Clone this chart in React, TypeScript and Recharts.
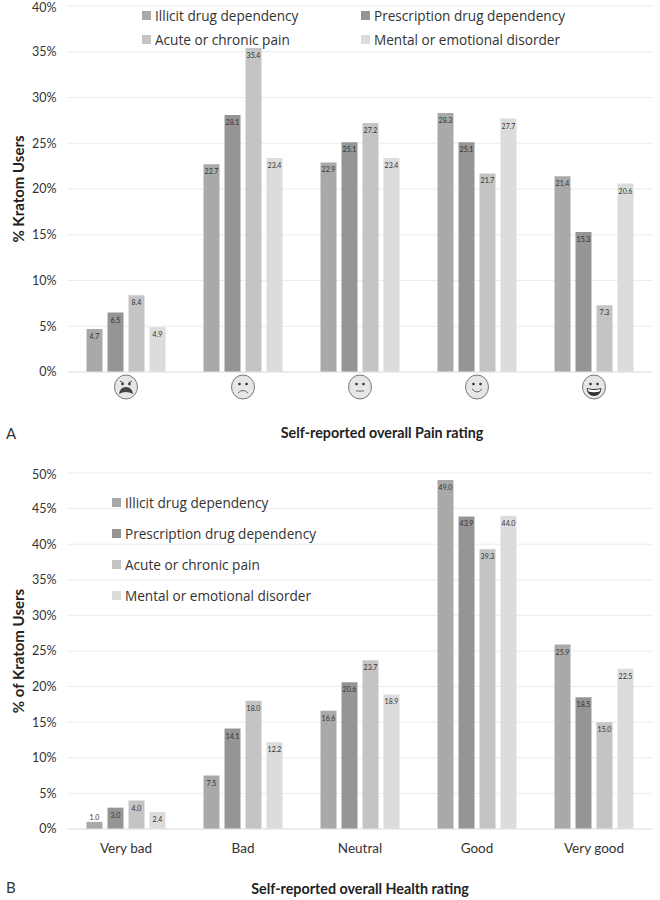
import React from 'react';
import { BarChart, Bar, XAxis, YAxis, CartesianGrid, Legend, LabelList } from 'recharts';

const ratings = ['Very bad', 'Bad', 'Neutral', 'Good', 'Very good'];

const illicitPain = [4.7, 22.7, 22.9, 28.3, 21.4];
const prescriptionPain = [6.5, 28.1, 25.1, 25.1, 15.3];
const acutePain = [8.4, 35.4, 27.2, 21.7, 7.3];
const mentalPain = [4.9, 23.4, 23.4, 27.7, 20.6];

const illicitHealth = [1.0, 7.5, 16.6, 49.0, 25.9];
const prescriptionHealth = [3.0, 14.1, 20.6, 43.9, 18.5];
const acuteHealth = [4.0, 18.0, 23.7, 39.3, 15.0];
const mentalHealth = [2.4, 12.2, 18.9, 44.0, 22.5];

const painTicks = [0, 5, 10, 15, 20, 25, 30, 35, 40];
const healthTicks = [0, 5, 10, 15, 20, 25, 30, 35, 40, 45, 50];

const series = [
  { key: 'illicit', name: 'Illicit drug dependency', color: '#a9a9a9' },
  { key: 'prescription', name: 'Prescription drug dependency', color: '#959595' },
  { key: 'acute', name: 'Acute or chronic pain', color: '#c4c4c4' },
  { key: 'mental', name: 'Mental or emotional disorder', color: '#dcdcdc' },
];

const buildRows = (a: number[], b: number[], c: number[], d: number[]) =>
  ratings.map((rating, i) => ({ rating, illicit: a[i], prescription: b[i], acute: c[i], mental: d[i] }));

const painData = buildRows(illicitPain, prescriptionPain, acutePain, mentalPain);
const healthData = buildRows(illicitHealth, prescriptionHealth, acuteHealth, mentalHealth);

const tickFont = 'Lato, "Open Sans", sans-serif';
const legendFont = '"Open Sans", sans-serif';

const BarValue = (props: any) => {
  const { x, y, width, height, value } = props;
  const above = height < 10;
  return (
    <text
      x={x + width / 2}
      y={above ? y - 2 : y + 10}
      textAnchor="middle"
      fontSize={7}
      fontFamily={tickFont}
      fill="#333"
    >
      {value.toFixed(1)}
    </text>
  );
};

const FaceTick = (props: any) => {
  const { x, y, payload } = props;
  const i = payload.index;
  const mouths = [
    <g key="m">
      <path d="M-6 -6 L-2.5 -4 M6 -6 L2.5 -4" stroke="#444" strokeWidth={1} />
      <path d="M-7 7 Q-6 0 0 0 Q6 0 7 7 Q0 3 -7 7 Z" fill="#444" />
    </g>,
    <path key="m" d="M-5 6 Q0 1 5 6" fill="none" stroke="#666" strokeWidth={1} />,
    <path key="m" d="M-4 4 L4 4" stroke="#666" strokeWidth={1} />,
    <path key="m" d="M-5 2 Q0 8 5 2" fill="none" stroke="#666" strokeWidth={1} />,
    <g key="m">
      <path d="M-7.5 1 Q0 3 7.5 1 Q6.5 9 0 9 Q-6.5 9 -7.5 1 Z" fill="#333" />
      <path d="M-6.5 2 Q0 4 6.5 2 L5.5 4.5 Q0 6 -5.5 4.5 Z" fill="#fff" />
    </g>,
  ];
  return (
    <g transform={`translate(${x},${y + 7})`}>
      <ellipse rx={11.5} ry={12} fill="#e6e6e6" stroke="#777" strokeWidth={1} />
      <circle cx={-3.5} cy={-3} r={1.3} fill="#333" />
      <circle cx={3.5} cy={-3} r={1.3} fill="#333" />
      {mouths[i]}
    </g>
  );
};

const makeLegend = (columns: number, rowGap: number, columnWidth: number) => (props: any) => (
  <div style={{ display: 'grid', gridTemplateColumns: `repeat(${columns}, ${columnWidth}px)`, rowGap }}>
    {props.payload.map((item: any) => (
      <div key={item.value} style={{ display: 'flex', alignItems: 'center', height: 18 }}>
        <span style={{ width: 9, height: 9, background: item.color, marginRight: 4 }} />
        <span style={{ fontFamily: legendFont, fontSize: 13.6, color: '#333', whiteSpace: 'nowrap' }}>{item.value}</span>
      </div>
    ))}
  </div>
);

const ChartPanel = ({ data, ticks, max, yLabel, title, titleShift, titleOffset, height, bottomPad, tick, legend, legendStyle }: any) => (
  <BarChart
    width={660}
    height={height}
    data={data}
    barSize={16}
    barGap={5}
    margin={{ top: 6, right: 7.5, bottom: 0, left: 0 }}
  >
    <CartesianGrid vertical={false} stroke="#ececec" />
    <XAxis
      dataKey="rating"
      tick={tick}
      tickLine={false}
      axisLine={{ stroke: '#e4e4e4' }}
      height={bottomPad}
      interval={0}
      label={{
        value: title,
        position: 'insideBottom',
        dx: titleShift,
        offset: titleOffset,
        fontFamily: tickFont,
        fontWeight: 700,
        fontSize: 14.3,
        fill: '#222',
      }}
    />
    <YAxis
      width={67.5}
      domain={[0, max]}
      ticks={ticks}
      tickFormatter={(v: number) => `${v}%`}
      tickLine={false}
      axisLine={false}
      tickMargin={5}
      tick={{ fontFamily: tickFont, fontSize: 12.5, fill: '#333' }}
      label={{
        value: yLabel,
        angle: -90,
        position: 'insideLeft',
        offset: 19,
        style: { textAnchor: 'middle', fontFamily: tickFont, fontWeight: 700, fontSize: 15, fill: '#222' },
      }}
    />
    <Legend content={legend} layout="vertical" align="center" verticalAlign="middle" itemSorter={null} wrapperStyle={legendStyle} />
    {series.map((s) => (
      <Bar key={s.key} dataKey={s.key} name={s.name} fill={s.color} isAnimationActive={false}>
        <LabelList dataKey={s.key} content={BarValue} />
      </Bar>
    ))}
  </BarChart>
);

const panelLetter = (letter: string, top: number) => (
  <div style={{ position: 'absolute', left: 6, top, fontFamily: tickFont, fontSize: 15, color: '#333' }}>{letter}</div>
);

export default function App() {
  return (
    <div style={{ position: 'absolute', left: 0, top: 0, width: 660, height: 900, background: '#fff' }}>
      <div style={{ position: 'absolute', left: 0, top: 0 }}>
        <ChartPanel
          data={painData}
          ticks={painTicks}
          max={40}
          yLabel="% Kratom Users"
          title="Self-reported overall Pain rating"
          titleShift={22}
          titleOffset={4}
          height={442}
          bottomPad={70}
          tick={FaceTick}
          legend={makeLegend(2, 6, 219)}
          legendStyle={{ left: 142, top: 6, width: 460 }}
        />
      </div>
      <div style={{ position: 'absolute', left: 0, top: 467 }}>
        <ChartPanel
          data={healthData}
          ticks={healthTicks}
          max={50}
          yLabel="% of Kratom Users"
          title="Self-reported overall Health rating"
          titleShift={0}
          titleOffset={6}
          height={433}
          bottomPad={71}
          tick={{ fontFamily: tickFont, fontSize: 13.5, fill: '#333', dy: 6 }}
          legend={makeLegend(1, 13, 260)}
          legendStyle={{ left: 112, top: 26, width: 260 }}
        />
      </div>
      {panelLetter('A', 424)}
      {panelLetter('B', 878)}
    </div>
  );
}
